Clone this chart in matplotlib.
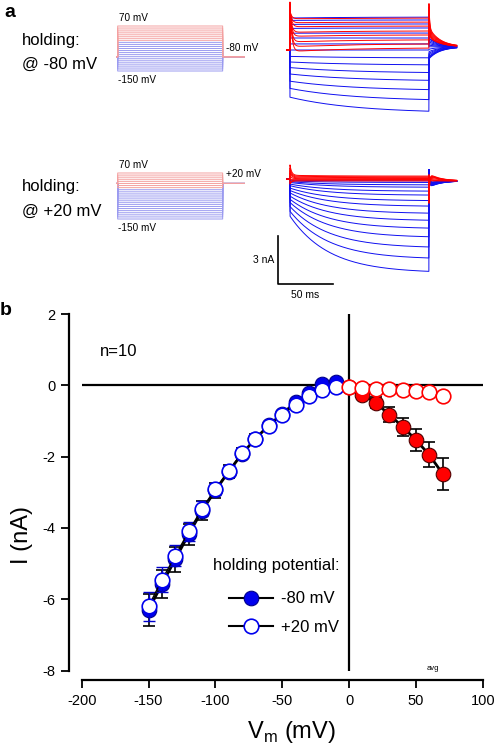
import numpy as np
import matplotlib
matplotlib.use('Agg')
import matplotlib.pyplot as plt
from matplotlib.lines import Line2D

plt.rcParams['font.family'] = ['Liberation Sans', 'DejaVu Sans']
plt.rcParams['axes.unicode_minus'] = False

W, H = 496, 750

# ---- panel a: voltage steps (mV), ordered as drawn, and traces (nA) ----
step_mv = np.array([70, 60, 50, 40, 30, 20, 10, 0, -10, -20, -30, -40, -50, -60,
                    -70, -80, -90, -100, -110, -120, -130, -140, -150])
hold_mv = [-80, 20]
STEP_MS = 125

# holding -80 mV
top_peak = [3.0, 2.9, 2.8, 2.7, 2.6, 2.6, 2.5, 2.45, 2.0, 1.85, 1.6, 1.35, 1.05, 0.75,
            0.38, 0.0, -0.4, -0.75, -1.1, -1.5, -1.95, -2.4, -2.95]
top_start = [-0.1, 0.2, 0.5, 0.85, 1.1, 1.45, 1.7, 1.95, 2.0, 1.85, 1.6, 1.35, 1.05, 0.75,
             0.38, 0.0, -0.4, -0.75, -1.1, -1.5, -1.95, -2.4, -2.95]
top_end = [0.15, 0.4, 0.65, 0.95, 1.2, 1.5, 1.75, 2.0, 2.06, 1.88, 1.63, 1.38, 1.06, 0.75,
           0.38, 0.0, -0.5, -0.95, -1.45, -1.95, -2.55, -3.2, -3.95]
top_tail = [1.4, 1.3, 1.2, 1.1, 1.0, 0.9, 0.85, 0.8, 0.75, 0.7, 0.6, 0.5, 0.4, 0.3,
            0.2, 0.05, -0.1, -0.2, -0.3, -0.4, -0.45, -0.5, -0.55]
top_off = [2.9, 2.7, 2.5, 2.3, 2.1, 1.9, 1.7, 1.5, 0.75, 0.7, 0.6, 0.5, 0.4, 0.3,
           0.2, 0.05, -0.1, -0.2, -0.3, -0.4, -0.45, -0.5, -0.55]

# holding +20 mV
bot_peak = [0.9, 0.7, 0.55, 0.4, 0.2, 0.0, -0.2, -0.3, -0.05, -0.1, -0.15, -0.2, -0.3, -0.4,
            -0.55, -0.7, -0.85, -1.05, -1.25, -1.45, -1.7, -2.0, -2.3]
bot_start = [0.25, 0.2, 0.15, 0.1, 0.05, 0.0, -0.05, -0.1, -0.05, -0.1, -0.15, -0.2, -0.3, -0.4,
             -0.55, -0.7, -0.85, -1.05, -1.25, -1.45, -1.7, -2.0, -2.3]
bot_end = [0.2, 0.15, 0.1, 0.05, 0.0, 0.0, -0.05, -0.1, -0.1, -0.2, -0.35, -0.5, -0.75, -1.0,
           -1.35, -1.7, -2.15, -2.6, -3.1, -3.65, -4.3, -5.0, -5.85]
bot_tail = [0.35, 0.3, 0.25, 0.2, 0.1, 0.0, -0.05, -0.1, -0.2, -0.2, -0.25, -0.25, -0.3, -0.3,
            -0.3, -0.35, -0.35, -0.4, -0.4, -0.45, -0.45, -0.5, -0.5]
bot_off = [-1.5, -1.2, -0.9, -0.6, -0.3, 0.0, 0.2, 0.3, 0.6, 0.6, 0.6, 0.6, 0.6, 0.6,
           0.6, 0.6, 0.6, 0.6, 0.6, 0.6, 0.6, 0.6, 0.6]

# ---- panel b: I-V data ----
vm = np.array([-150, -140, -130, -120, -110, -100, -90, -80, -70, -60, -50, -40,
               -30, -20, -10, 0, 10, 20, 30, 40, 50, 60, 70])
i_h80 = np.array([-6.3, -5.58, -4.88, -4.18, -3.52, -2.95, -2.42, -1.92, -1.5, -1.12,
                  -0.8, -0.48, -0.22, 0.05, 0.1, -0.04, -0.26, -0.49, -0.82, -1.16,
                  -1.53, -1.95, -2.48])
e_h80 = np.array([0.45, 0.4, 0.35, 0.3, 0.27, 0.22, 0.18, 0.15, 0.12, 0.1, 0.08, 0.06,
                  0.05, 0.04, 0.04, 0.05, 0.08, 0.15, 0.2, 0.25, 0.3, 0.35, 0.45])
i_h20 = np.array([-6.2, -5.46, -4.78, -4.1, -3.46, -2.91, -2.39, -1.9, -1.5, -1.13,
                  -0.82, -0.55, -0.31, -0.12, -0.04, -0.04, -0.07, -0.09, -0.11, -0.13,
                  -0.16, -0.2, -0.3])
e_h20 = np.array([0.4, 0.35, 0.3, 0.27, 0.22, 0.18, 0.15, 0.12, 0.1, 0.08, 0.06, 0.05,
                  0.04, 0.03, 0.03, 0.03, 0.03, 0.03, 0.03, 0.03, 0.04, 0.04, 0.05])

BLUE = '#1010f0'
RED = '#ff0000'
PALE_BLUE = '#9a9af0'
PALE_RED = '#f4a0a0'


def px_axes(fig, left, top, right, bottom):
    return fig.add_axes([left / W, 1 - bottom / H, (right - left) / W, (bottom - top) / H])


def trace(t, peak, start, end, tail0, off, tau_drift, base_after):
    y = np.zeros_like(t)
    on = (t >= 0) & (t < STEP_MS)
    ts = t[on]
    y[on] = end + (start - end) * np.exp(-ts / tau_drift) + (peak - start) * np.exp(-ts / 1.5)
    post = t >= STEP_MS
    tp = t[post] - STEP_MS
    y[post] = base_after + (tail0 - base_after) * np.exp(-tp / 10) + (off - tail0) * np.exp(-tp / 0.6)
    return y


def draw_protocol(ax, hold, hold_label):
    for color, sel in ((PALE_BLUE, step_mv < 0), (PALE_RED, step_mv >= 0)):
        for v in step_mv[sel]:
            ax.plot([-2, 0, 0, STEP_MS, STEP_MS, 151], [hold, hold, v, v, hold, hold],
                    color=color, lw=0.7, snap=False)
    ax.set_xlim(-2, 151)
    ax.set_ylim(-160, 80)
    ax.axis('off')
    ax.annotate('70 mV', (2, 70), xytext=(0, 2.5), textcoords='offset points',
                fontsize=7.2, va='bottom')
    ax.annotate('-150 mV', (0, -150), xytext=(0, -3), textcoords='offset points',
                fontsize=7.2, va='top')
    ax.annotate(hold_label, (128.5, hold), xytext=(0, 3), textcoords='offset points',
                fontsize=7.2, va='bottom')


def draw_traces(ax, peak, start, end, tail, off, tau_drift, base_after):
    t = np.arange(-3, 150, 0.1)
    for color, sel in ((BLUE, step_mv < 0), (RED, step_mv >= 0)):
        for k in np.where(sel)[0]:
            ax.plot(t, trace(t, peak[k], start[k], end[k], tail[k], off[k], tau_drift, base_after),
                    color=color, lw=0.7)
    ax.set_xlim(-15, 152)
    ax.axis('off')


fig = plt.figure(figsize=(W / 100, H / 100), dpi=100)

fig.text(4 / W, 1 - 16.7 / H, 'a', fontsize=14, fontweight='bold')
fig.text(22 / W, 1 - 45.5 / H, 'holding:', fontsize=12)
fig.text(22 / W, 1 - 69 / H, '@ -80 mV', fontsize=12)
fig.text(22 / W, 1 - 190.7 / H, 'holding:', fontsize=12)
fig.text(22 / W, 1 - 216 / H, '@ +20 mV', fontsize=12)

ax_p1 = px_axes(fig, 116, 23.95, 244.5, 73.05)
draw_protocol(ax_p1, hold_mv[0], '-80 mV')
ax_p2 = px_axes(fig, 116, 170.9, 244.5, 221.1)
draw_protocol(ax_p2, hold_mv[1], '+20 mV')

ax_t1 = px_axes(fig, 273.3, 0, 459, 120)
ax_t1.set_ylim(-4.375, 3.125)
draw_traces(ax_t1, top_peak, top_start, top_end, top_tail, top_off, 60, 0.2)

ax_t2 = px_axes(fig, 273.3, 160, 459, 300)
ax_t2.set_ylim(-7.54, 1.206)
draw_traces(ax_t2, bot_peak, bot_start, bot_end, bot_tail, bot_off, 35, -0.1)

# scale bar
sb_nA, sb_ms = 3, 50
sb_x, sb_y = -11, -6.54
ax_t2.plot([sb_x, sb_x, sb_x + sb_ms], [sb_y + sb_nA, sb_y, sb_y], color='k', lw=1.2)
ax_t2.text(sb_x - 3, sb_y + sb_nA / 2, '3 nA', fontsize=7.5, ha='right', va='center')
ax_t2.text(sb_x + sb_ms / 2, sb_y - 0.35, '50 ms', fontsize=7.5, ha='center', va='top')

# ---- panel b ----
fig.text(0 / W, 1 - 315 / H, 'b', fontsize=14, fontweight='bold')
ax = px_axes(fig, 81.7, 314, 482.7, 670.5)
ax.set_xlim(-200, 100)
ax.set_ylim(-8, 2)
for s in ('top', 'right'):
    ax.spines[s].set_visible(False)
ax.spines['left'].set_position(('outward', 9.1))
ax.spines['bottom'].set_position(('outward', 6.8))
for s in ('left', 'bottom'):
    ax.spines[s].set_linewidth(1.6)
ax.set_xticks([-200, -150, -100, -50, 0, 50, 100])
ax.set_yticks([-8, -6, -4, -2, 0, 2])
ax.tick_params(direction='out', length=6, width=1.3, labelsize=10.5, pad=4)

ax.axhline(0, color='k', lw=1.6, zorder=1)
ax.axvline(0, color='k', lw=1.6, zorder=1)

neg = vm < 0
pos = ~neg

ax.errorbar(vm, i_h80, yerr=e_h80, fmt='none', ecolor='k', elinewidth=1.2,
            capsize=4, capthick=1.2, zorder=2)
ax.plot(vm, i_h80, color='k', lw=2, zorder=3)
ax.plot(vm[neg], i_h80[neg], 'o', ms=10.5, mfc='#0000ee', mec='#00008b', mew=0.8, zorder=4)
ax.plot(vm[pos], i_h80[pos], 'o', ms=10.5, mfc=RED, mec='#500000', mew=0.8, zorder=4)

ax.errorbar(vm[neg], i_h20[neg], yerr=e_h20[neg], fmt='none', ecolor='#0000cc',
            elinewidth=1.0, capsize=4, capthick=1.0, zorder=5)
ax.plot(vm, i_h20, color='k', lw=1.0, zorder=5)
ax.plot(vm[neg], i_h20[neg], 'o', ms=10.5, mfc='white', mec='#0000ee', mew=1.2, zorder=6)
ax.plot(vm[pos], i_h20[pos], 'o', ms=10.5, mfc='white', mec=RED, mew=1.2, zorder=6)

ax.text(-186, 0.95, 'n=10', fontsize=12, va='center')
ax.text(63, -7.93, 'avg', fontsize=5.5, ha='center', va='center')

ax.text(-7.5, -5.06, 'holding potential:', fontsize=12, ha='right', va='center')
handles = [Line2D([], [], color='k', lw=1.5, marker='o', ms=10.5, mfc='#0000ee',
                  mec='#00008b', mew=0.8),
           Line2D([], [], color='k', lw=1.5, marker='o', ms=10.5, mfc='white',
                  mec='#0000ee', mew=1.2)]
ax.legend(handles, ['-80 mV', '+20 mV'], loc='upper right',
          bbox_to_anchor=(0.6416, 0.222), frameon=False, fontsize=12,
          handlelength=2.6, handletextpad=0.5, labelspacing=0.82,
          borderpad=0, borderaxespad=0)

ax.set_xlabel('V$_\\mathregular{m}$ (mV)', fontsize=17)
ax.set_ylabel('I (nA)', fontsize=17)
ax.xaxis.set_label_coords(0.524, -0.135)
ax.yaxis.set_label_coords(-0.122, 0.38)

fig.savefig('out.png', dpi=100)
